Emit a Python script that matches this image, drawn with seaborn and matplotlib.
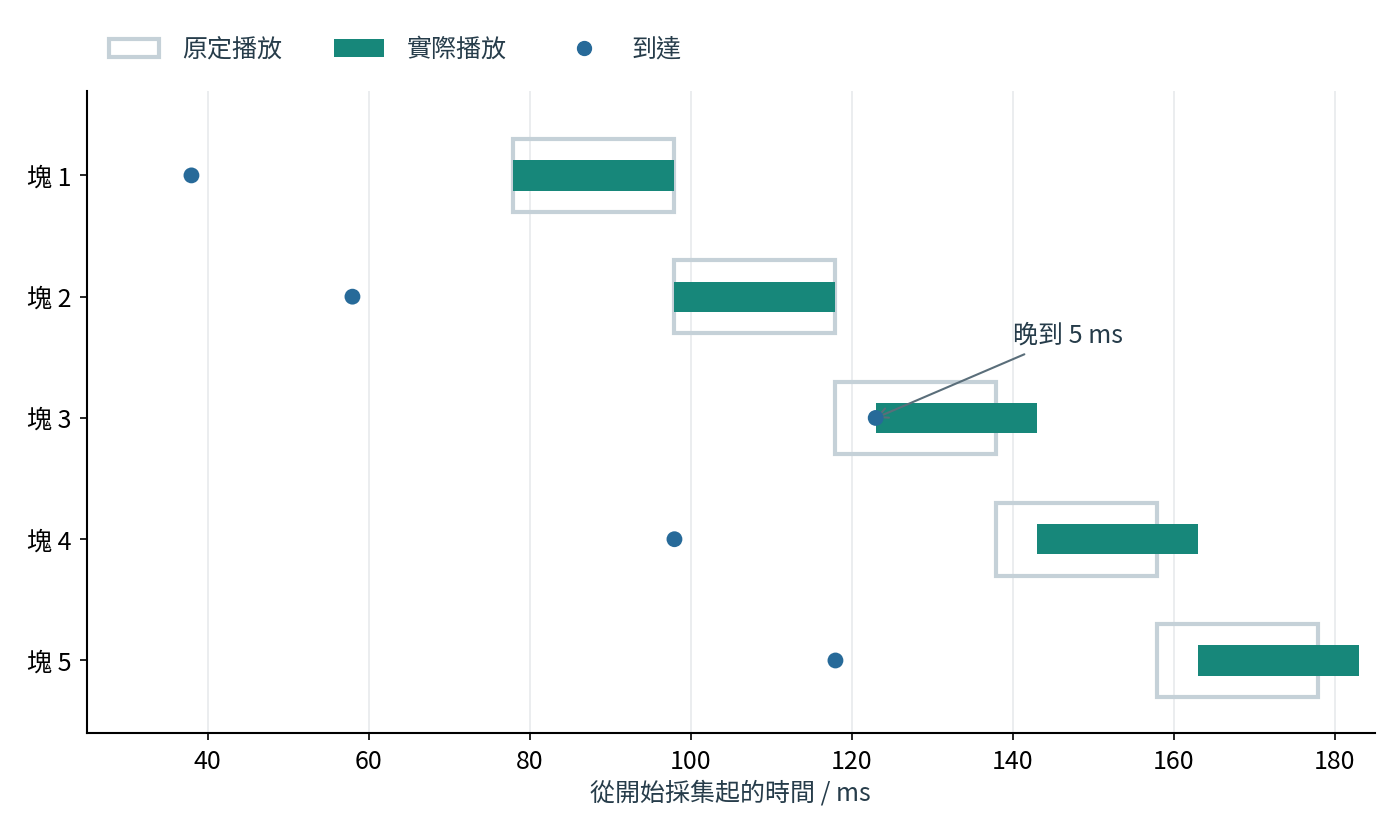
import seaborn as sns
import pandas as pd
import matplotlib.pyplot as plt
from matplotlib.patches import Patch
from matplotlib.lines import Line2D

chunks = ["塊 1", "塊 2", "塊 3", "塊 4", "塊 5"]
sched_start = [78, 98, 118, 138, 158]
actual_start = [78, 98, 123, 143, 163]
arrival = [38, 58, 123, 98, 118]
duration = 20

sns.set_theme(style="white")
plt.rcParams['font.family'] = ['Noto Sans CJK TC', 'DejaVu Sans']

teal = "#17877a"
box_col = "#c5d1d8"
dot_col = "#276a99"
text_col = "#263c4a"

df = pd.DataFrame({"chunk": chunks, "sched": sched_start, "actual": actual_start, "arrival": arrival})
df["row"] = range(len(df))

fig, ax = plt.subplots(figsize=(14, 8.38), dpi=100)
ax.barh(df["row"], duration, left=df["sched"], height=0.6, fill=False,
        edgecolor=box_col, linewidth=3, zorder=2)
ax.barh(df["row"], duration, left=df["actual"], height=0.25, color=teal,
        edgecolor="none", linewidth=0, zorder=3)
sns.scatterplot(data=df, x="arrival", y="row", ax=ax, color=dot_col, s=130,
                edgecolor="none", zorder=4, legend=False)

ax.annotate("晚到 5 ms", xy=(arrival[2], 2), xytext=(140, 1.43), ha="left", va="bottom",
            fontsize=18, color=text_col,
            arrowprops=dict(arrowstyle="->", color="#5a6e7a", lw=1.5, shrinkA=4, shrinkB=0))

ax.set_xlim(25, 185)
ax.set_ylim(4.6, -0.7)
ax.set_yticks(df["row"])
ax.set_yticklabels(chunks)
ax.set_xticks([40, 60, 80, 100, 120, 140, 160, 180])
ax.tick_params(axis="both", labelsize=18, colors="black", length=5, width=1.2,
               left=True, bottom=True, pad=6)
ax.grid(axis="x", color="#e8eaec", linewidth=1.2, zorder=0)
ax.set_axisbelow(True)
sns.despine(ax=ax)
for s in ["left", "bottom"]:
    ax.spines[s].set_color("black")
    ax.spines[s].set_linewidth(1.5)
ax.set_xlabel("從開始採集起的時間 / ms", fontsize=18, color=text_col, labelpad=4)
ax.set_ylabel("")

handles = [
    Patch(facecolor="white", edgecolor=box_col, linewidth=3, label="原定播放"),
    Patch(facecolor=teal, edgecolor="none", label="實際播放"),
    Line2D([], [], marker="o", linestyle="none", color=dot_col, markersize=10, label="到達"),
]
leg = ax.legend(handles=handles, loc="lower left", bbox_to_anchor=(0.0, 1.008), ncol=3,
                frameon=False, fontsize=18, handlelength=2.0, handleheight=0.7,
                columnspacing=2.1, handletextpad=0.9)
for t in leg.get_texts():
    t.set_color(text_col)

fig.subplots_adjust(left=0.062, right=0.982, top=0.892, bottom=0.125)
fig.savefig("out.png", dpi=100)
